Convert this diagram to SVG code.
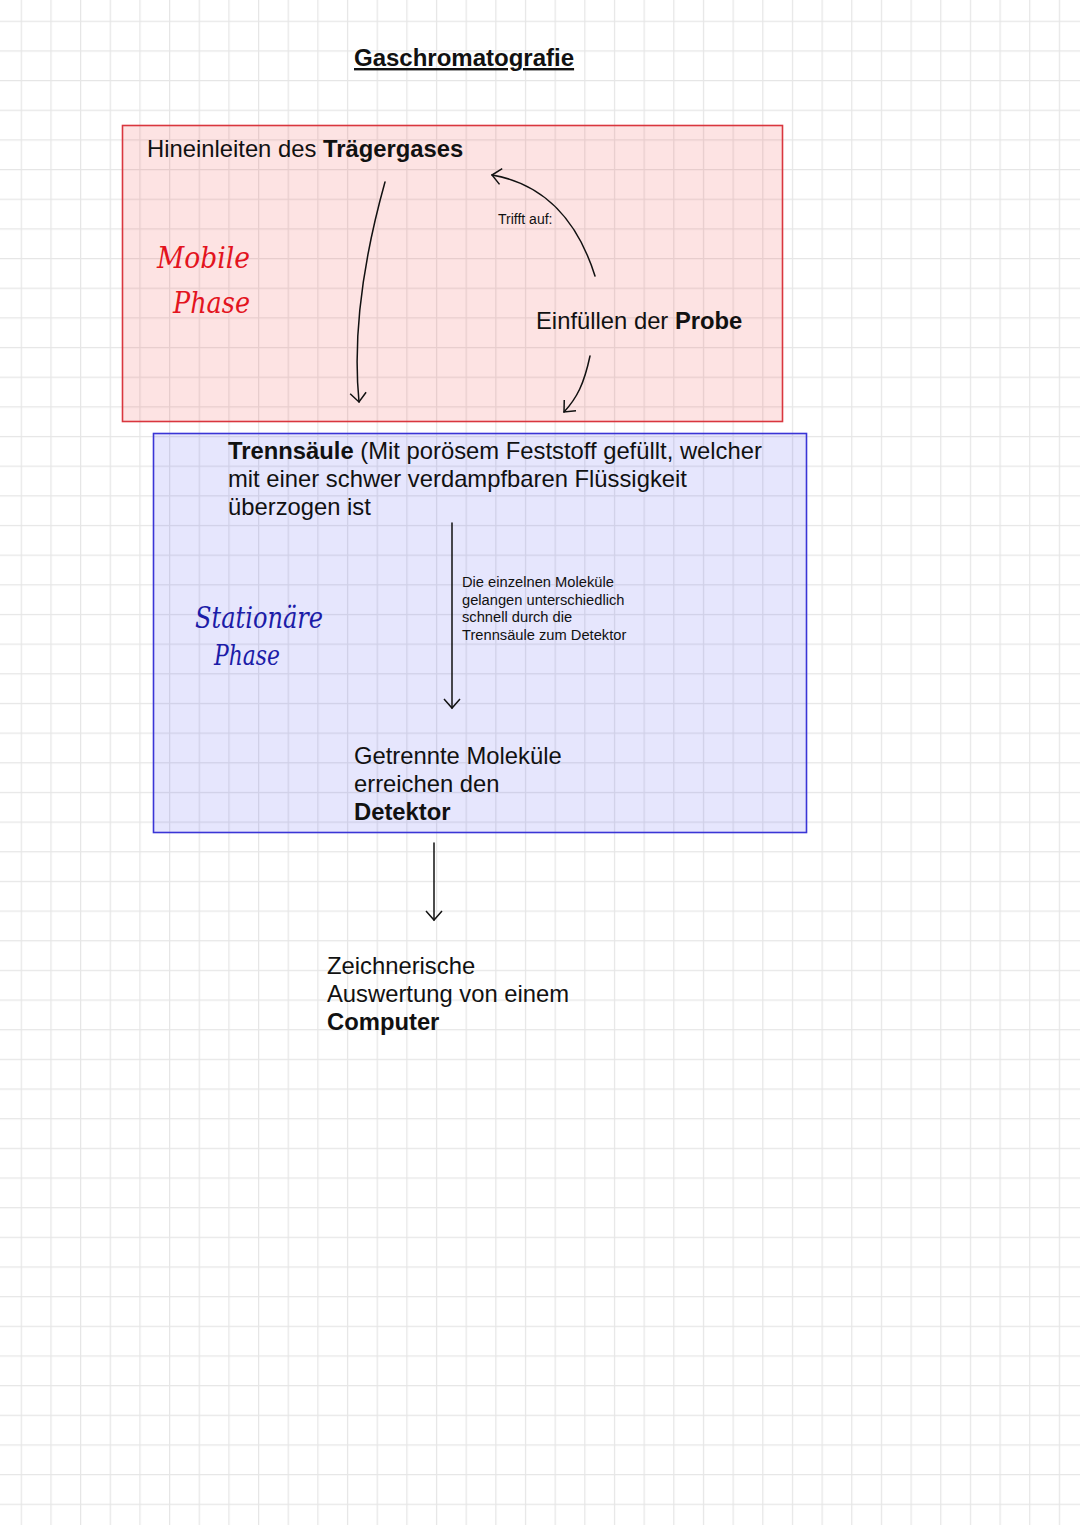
<svg xmlns="http://www.w3.org/2000/svg" width="1080" height="1525" viewBox="0 0 1080 1525">
<defs>
<pattern id="grid" patternUnits="userSpaceOnUse" x="20.7" y="20.7" width="29.66" height="29.66">
<path d="M0 0.6 H29.66 M0.6 0 V29.66" stroke="#e6e6e6" stroke-width="1.3" fill="none"/>
</pattern>
<marker id="ah" viewBox="0 0 20 20" refX="10" refY="10" markerWidth="20" markerHeight="20" markerUnits="userSpaceOnUse" orient="auto">
<path d="M1 2 L10 10 L1 18" fill="none" stroke="#111" stroke-width="1.5"/>
</marker>
<style>
.t{font-family:"Liberation Sans",Arial,sans-serif;fill:#111;}
.b{font-weight:bold;}
.big{font-size:23.8px;}
.sm{font-size:14.7px;}
.hw{font-family:"DejaVu Serif","Liberation Serif",serif;font-style:italic;font-weight:normal;}
.c{fill:none;stroke:#111;stroke-width:1.5;stroke-linecap:round;}
</style>
</defs>
<rect width="1080" height="1525" fill="#ffffff"/>
<rect width="1080" height="1525" fill="url(#grid)"/>

<g id="title">
<text class="t b" x="354" y="66" font-size="24" text-decoration="underline">Gaschromatografie</text>
</g>

<g id="mobile-box">
<rect x="122.5" y="125.5" width="660" height="296" fill="#ee3b3b" fill-opacity="0.14" stroke="#d9363e" stroke-width="1.6"/>
<text class="t big" x="147" y="157">Hineinleiten des <tspan class="b">Trägergases</tspan></text>
<text class="hw" x="157" y="268" font-size="30" fill="#e3141e" textLength="93" lengthAdjust="spacingAndGlyphs">Mobile</text>
<text class="hw" x="173" y="313" font-size="30" fill="#e3141e" textLength="77" lengthAdjust="spacingAndGlyphs">Phase</text>
</g>

<g id="probe">
<text class="t big" x="536" y="329">Einfüllen der <tspan class="b">Probe</tspan></text>
</g>

<g id="trennsaeule-box">
<rect x="153.5" y="433.5" width="653" height="399" fill="#3c3cf0" fill-opacity="0.13" stroke="#3a35d6" stroke-width="1.6"/>
<text class="t big" x="228" y="459"><tspan class="b">Trennsäule</tspan> (Mit porösem Feststoff gefüllt, welcher</text>
<text class="t big" x="228" y="487">mit einer schwer verdampfbaren Flüssigkeit</text>
<text class="t big" x="228" y="515">überzogen ist</text>
<text class="hw" x="195" y="628" font-size="30" fill="#1c1ca8" textLength="128" lengthAdjust="spacingAndGlyphs">Stationäre</text>
<text class="hw" x="214" y="665" font-size="27" fill="#1c1ca8" textLength="66" lengthAdjust="spacingAndGlyphs">Phase</text>
</g>

<g id="detektor">
<text class="t big" x="354" y="764">Getrennte Moleküle</text>
<text class="t big" x="354" y="792">erreichen den</text>
<text class="t big b" x="354" y="820">Detektor</text>
</g>

<g id="computer">
<text class="t big" x="327" y="974">Zeichnerische</text>
<text class="t big" x="327" y="1002">Auswertung von einem</text>
<text class="t big b" x="327" y="1030">Computer</text>
</g>

<g id="connectors">
<path class="c" d="M385,182 C366,250 352,330 359,402" marker-end="url(#ah)"/>
<path class="c" d="M595,276 C578,222 545,184 492,175" marker-end="url(#ah)"/>
<text class="t" x="498" y="224" font-size="14">Trifft auf:</text>
<path class="c" d="M590,356 C584,384 577,398 564,412" marker-end="url(#ah)"/>
<path class="c" d="M452,523 L452,708" marker-end="url(#ah)"/>
<text class="t sm" x="462" y="587">Die einzelnen Moleküle</text>
<text class="t sm" x="462" y="604.5">gelangen unterschiedlich</text>
<text class="t sm" x="462" y="622">schnell durch die</text>
<text class="t sm" x="462" y="640">Trennsäule zum Detektor</text>
<path class="c" d="M434,843 L434,920" marker-end="url(#ah)"/>
</g>
</svg>
